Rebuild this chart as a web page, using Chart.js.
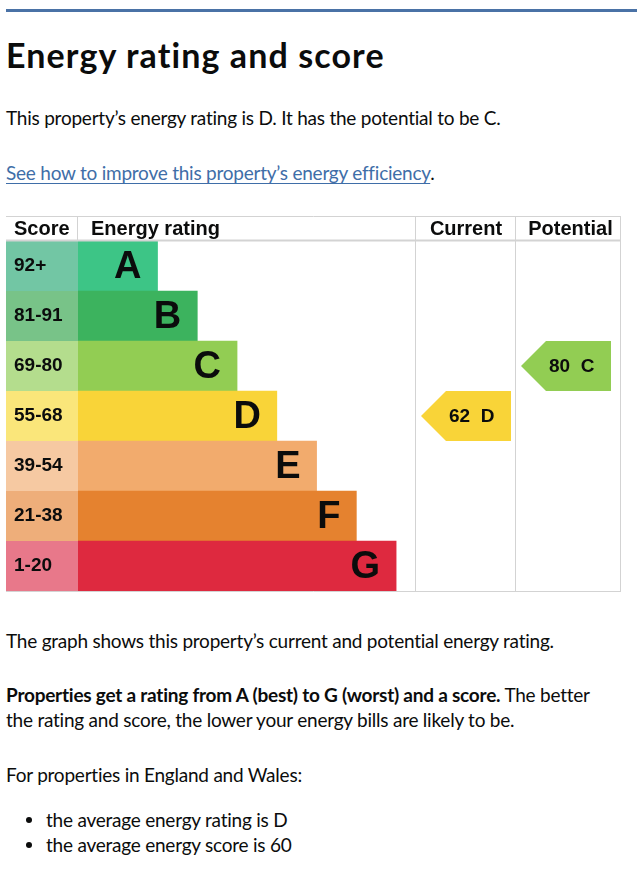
<!DOCTYPE html>
<html>
<head>
<meta charset="utf-8">
<script src="https://cdn.jsdelivr.net/npm/chart.js@4/dist/chart.umd.min.js"></script>
<style>
  html, body { margin: 0; padding: 0; background: #fff; }
  body { width: 643px; height: 874px; position: relative; overflow: hidden;
         font-family: "Lato", "Noto Sans", sans-serif; color: #0b0c0c; }
  .abs { position: absolute; left: 6px; white-space: nowrap; }
  .rule { position: absolute; left: 6px; top: 9px; width: 631px; height: 3px; background: #4a72a6; }
  h1 { margin: 0; font-size: 34px; font-weight: 700; line-height: 40px; top: 35px; letter-spacing: 1.1px; }
  .p { font-size: 19px; line-height: 25px; letter-spacing: -0.23px; }
  a { color: #3f6ea8; text-decoration: underline; text-underline-offset: 3px; text-decoration-thickness: 1px; }
  ul { margin: 0; padding: 0; list-style: none; }
  li { position: relative; padding-left: 40px; }
  li::before { content: ""; position: absolute; left: 20px; top: 10px; width: 6px; height: 6px; border-radius: 50%; background: #0b0c0c; }
  #wrap { position: absolute; left: 6px; top: 216px; width: 616px; height: 376px; }
</style>
</head>
<body>
<div class="rule"></div>
<h1 class="abs">Energy rating and score</h1>
<div class="abs p" style="top:105px">This property’s energy rating is D. It has the potential to be C.</div>
<div class="abs p" style="top:160px"><a>See how to improve this property’s energy efficiency</a>.</div>
<div id="wrap"><canvas id="c"></canvas></div>
<div class="abs p" style="top:628px">The graph shows this property’s current and potential energy rating.</div>
<div class="abs p" style="top:682px"><b>Properties get a rating from A (best) to G (worst) and a score.</b> The better<br>the rating and score, the lower your energy bills are likely to be.</div>
<div class="abs p" style="top:762px">For properties in England and Wales:</div>
<ul class="abs p" style="top:807px; left:6px">
  <li>the average energy rating is D</li>
  <li>the average energy score is 60</li>
</ul>
<script>
const bands = ['A', 'B', 'C', 'D', 'E', 'F', 'G'];
const scoreRanges = ['92+', '81-91', '69-80', '55-68', '39-54', '21-38', '1-20'];
const barLengths = [2, 3, 4, 5, 6, 7, 8];
const bandColors = ['#3dc586', '#3cb35e', '#92cd53', '#f9d438', '#f2ab6d', '#e5822f', '#de293f'];
const scoreColors = ['#72c6a4', '#78c388', '#b4dd8d', '#fae67a', '#f6c9a2', '#eeae7a', '#e8788a'];
const columnHeaders = ['Score', 'Energy rating', 'Current', 'Potential'];
const currentScore = 62, currentBand = 'D';
const potentialScore = 80, potentialBand = 'C';

const SCORE_COL = 72, CUR_COL = 100, POT_COL = 105, HEADER_H = 25, ARROW_W = 90;
const GRID = '#d3d3d3';
const labelFont = '"Liberation Sans", Arial, sans-serif';

const epcPlugin = {
  id: 'epc',
  afterDatasetsDraw(chart) {
    const ctx = chart.ctx;
    const ca = chart.chartArea;
    const y = chart.scales.y, x = chart.scales.x;
    const rowH = (ca.bottom - ca.top) / bands.length;
    ctx.save();
    // score column
    bands.forEach((b, i) => {
      const yc = y.getPixelForValue(i);
      ctx.fillStyle = scoreColors[i];
      ctx.fillRect(0, yc - rowH / 2, ca.left, rowH);
      ctx.fillStyle = '#0b0c0c';
      ctx.font = 'bold 19px ' + labelFont;
      ctx.textAlign = 'left';
      ctx.textBaseline = 'middle';
      ctx.fillText(scoreRanges[i], 8, yc);
      // band letter
      ctx.font = 'bold 38px ' + labelFont;
      ctx.textAlign = 'right';
      ctx.fillText(b, x.getPixelForValue(barLengths[i]) - 16, yc + 2);
    });
    // grid lines
    const c1 = ca.right, c2 = ca.right + CUR_COL, c3 = c2 + POT_COL;
    ctx.strokeStyle = GRID;
    ctx.lineWidth = 1;
    ctx.beginPath();
    ctx.moveTo(0, 0.5); ctx.lineTo(c3, 0.5);
    ctx.moveTo(0, ca.bottom + 0.5); ctx.lineTo(c3, ca.bottom + 0.5);
    ctx.moveTo(ca.left - 0.5, 0); ctx.lineTo(ca.left - 0.5, ca.top);
    [c1, c2, c3].forEach(cx => { ctx.moveTo(cx - 0.5, 0); ctx.lineTo(cx - 0.5, ca.bottom + 1); });
    ctx.stroke();
    ctx.lineWidth = 2;
    ctx.beginPath();
    ctx.moveTo(0, ca.top - 0.5); ctx.lineTo(c3, ca.top - 0.5);
    ctx.stroke();
    // headers
    ctx.fillStyle = '#0b0c0c';
    ctx.font = 'bold 20px ' + labelFont;
    ctx.textBaseline = 'middle';
    ctx.textAlign = 'left';
    ctx.fillText(columnHeaders[0], 8, 13);
    ctx.fillText(columnHeaders[1], ca.left + 13, 13);
    ctx.textAlign = 'center';
    ctx.fillText(columnHeaders[2], (c1 + c2) / 2, 13);
    ctx.fillText(columnHeaders[3], (c2 + c3) / 2 + 2, 13);
    // arrows
    const drawArrow = (left, band, score) => {
      const i = bands.indexOf(band);
      const yc = y.getPixelForValue(i);
      const top = yc - rowH / 2, bot = yc + rowH / 2;
      const tip = left + 5, r = tip + ARROW_W;
      ctx.fillStyle = bandColors[i];
      ctx.beginPath();
      ctx.moveTo(tip, yc);
      ctx.lineTo(tip + rowH / 2, top);
      ctx.lineTo(r, top);
      ctx.lineTo(r, bot);
      ctx.lineTo(tip + rowH / 2, bot);
      ctx.closePath();
      ctx.fill();
      ctx.fillStyle = '#0b0c0c';
      ctx.font = 'bold 19px ' + labelFont;
      ctx.textAlign = 'left';
      ctx.fillText(score + '  ' + band, tip + 28, yc + 1);
    };
    drawArrow(c1, currentBand, currentScore);
    drawArrow(c2, potentialBand, potentialScore);
    ctx.restore();
  }
};

new Chart(document.getElementById('c'), {
  type: 'bar',
  data: {
    labels: bands,
    datasets: [{
      data: barLengths,
      backgroundColor: bandColors,
      borderWidth: 0,
      barPercentage: 1,
      categoryPercentage: 1
    }]
  },
  options: {
    indexAxis: 'y',
    responsive: true,
    maintainAspectRatio: false,
    animation: false,
    layout: { padding: { left: SCORE_COL, right: CUR_COL + POT_COL + 1, top: HEADER_H, bottom: 1 } },
    scales: {
      x: { display: false, min: 0, max: 8.5 },
      y: { display: false }
    },
    plugins: { legend: { display: false }, tooltip: { enabled: false } }
  },
  plugins: [epcPlugin]
});
</script>
</body>
</html>
